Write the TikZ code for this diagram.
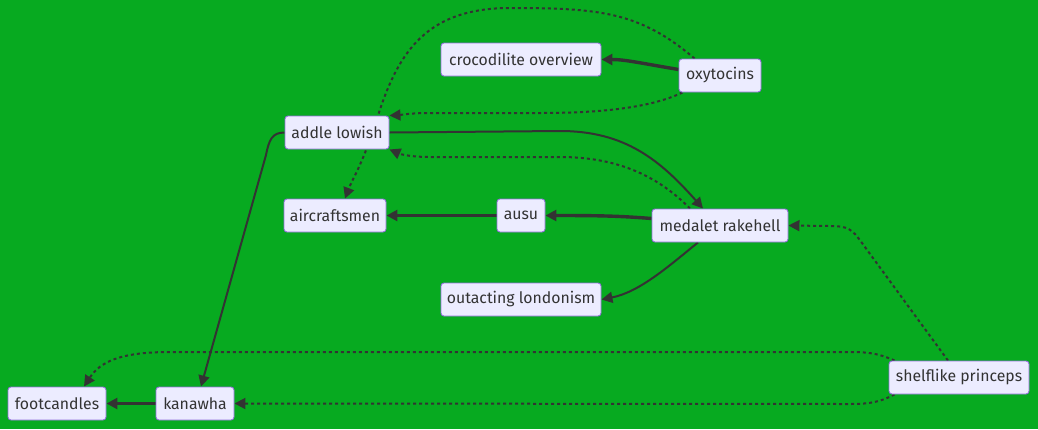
\documentclass[tikz,border=0pt]{standalone}
\usepackage{fontspec}
\setmainfont{Fira Sans}
\usetikzlibrary{arrows.meta,calc}
\definecolor{bggreen}{RGB}{7,170,32}
\definecolor{nodefill}{HTML}{ECECFF}
\definecolor{nodeline}{HTML}{9370DB}
\definecolor{edgecol}{HTML}{333333}
\pgfdeclarelayer{bg}
\pgfdeclarelayer{edges}
\pgfsetlayers{bg,edges,main}
\tikzset{
  box/.style={draw=nodeline, fill=nodefill, rounded corners=3pt, line width=0.9pt,
    minimum height=33pt, inner sep=0pt, text=edgecol, font=\fontsize{15.8pt}{18pt}\selectfont},
  link/.style={draw=edgecol, line width=2pt, -{Triangle[length=11pt,width=11pt]}},
  thicklink/.style={link, line width=3.4pt},
  dotlink/.style={link, dash pattern=on 3pt off 3pt},
}
\begin{document}
\begin{tikzpicture}[x=1pt,y=-1pt]
\begin{pgfonlayer}{bg}
\fill[bggreen] (0,0) rectangle (1038,429);
\end{pgfonlayer}
\useasboundingbox (0,0) rectangle (1038,429);

\node[box, minimum width=160pt] (croc) at (521,59.5) {crocodilite overview};
\node[box, minimum width=82pt] (oxy) at (720,75.5) {oxytocins};
\node[box, minimum width=104pt] (addle) at (337,132.5) {addle lowish};
\node[box, minimum width=102pt] (air) at (335,215.5) {aircraftsmen};
\node[box, minimum width=48pt] (ausu) at (521,215.5) {ausu};
\node[box, minimum width=136pt] (med) at (720,225.5) {medalet rakehell};
\node[box, minimum width=160pt] (out) at (521,299.5) {outacting londonism};
\node[box, minimum width=98pt] (foot) at (57,403.5) {footcandles};
\node[box, minimum width=78pt] (kan) at (195,403.5) {kanawha};
\node[box, minimum width=140pt] (shelf) at (959,377.5) {shelflike princeps};

\begin{pgfonlayer}{edges}
% oxytocins -> crocodilite overview
\draw[thicklink] ([yshift=6pt]oxy.west) .. controls (640,63) and (625,59.5) .. (croc.east);
% oxytocins -> addle lowish
\draw[dotlink] ([xshift=4pt]oxy.south west) .. controls (650,108) and (600,113) .. (540,113)
  -- (430,113) .. controls (410,113) and (400,115) .. (addle.north east);
% oxytocins -> aircraftsmen
\draw[dotlink] ([xshift=16pt]oxy.north west) .. controls (640,12) and (600,8) .. (510,8)
  .. controls (420,8) and (395,60) .. (375,125) .. controls (362,165) and (352,180) .. ([xshift=10pt]air.north);
% addle lowish -> medalet rakehell
\draw[link] (addle.east) -- (560,131) .. controls (625,131) and (660,160) .. ([xshift=-17pt]med.north);
% medalet rakehell -> addle lowish
\draw[dotlink] ([xshift=-30pt]med.north) .. controls (660,178) and (620,157) .. (560,157)
  -- (430,157) .. controls (410,157) and (400,154) .. (addle.south east);
% medalet rakehell -> ausu
\draw[thicklink] ([yshift=7pt]med.west) .. controls (620,216) and (600,215.5) .. (ausu.east);
% ausu -> aircraftsmen
\draw[thicklink] (ausu.west) -- (air.east);
% medalet rakehell -> outacting londonism
\draw[link] ([xshift=-22pt]med.south) .. controls (670,265) and (640,292) .. (out.east);
% addle lowish -> kanawha
\draw[link] (addle.west) .. controls (272,132.5) and (269,140) .. (266,155) -- ([xshift=6pt]kan.north);
% kanawha -> footcandles
\draw[thicklink] (kan.west) -- (foot.east);
% shelflike princeps -> medalet rakehell
\draw[dotlink] ([xshift=-11pt]shelf.north) -- (862,243) .. controls (852,229) and (848,226) .. (830,226) -- (med.east);
% shelflike princeps -> footcandles
\draw[dotlink] ([xshift=6pt]shelf.north west) .. controls (880,354) and (870,352) .. (850,352)
  -- (170,352) .. controls (120,352) and (100,362) .. ([xshift=27pt]foot.north);
% shelflike princeps -> kanawha
\draw[dotlink] ([xshift=6pt]shelf.south west) .. controls (880,402) and (870,404) .. (850,404) -- (kan.east);
\end{pgfonlayer}
\end{tikzpicture}
\end{document}
